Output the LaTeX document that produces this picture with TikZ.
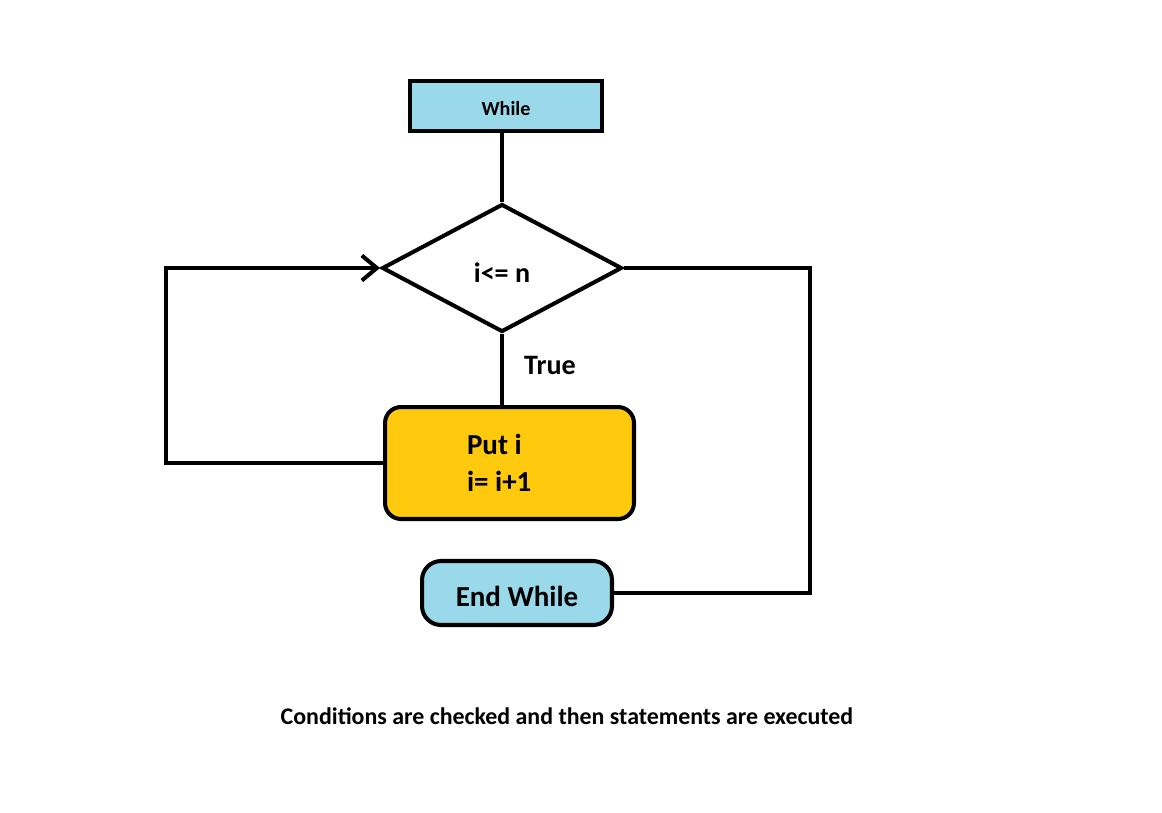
\documentclass[tikz,border=0pt]{standalone}
\usepackage{fontspec}
\setmainfont{Carlito}
\usetikzlibrary{arrows.meta,shapes.geometric}

\definecolor{boxblue}{HTML}{99D9EA}
\definecolor{boxyellow}{HTML}{FFC90E}

\begin{document}
\begin{tikzpicture}[x=0.02cm,y=-0.02cm,line width=2.3pt,
  >={Straight Barb[length=0.3cm,width=0.5cm]},
  startbox/.style={draw,fill=boxblue,inner sep=0pt,minimum width=3.84cm,minimum height=1.0cm,
    text height=11pt,font=\bfseries\fontsize{11.4}{13}\selectfont},
  cond/.style={draw,diamond,aspect=1.875,inner sep=0pt,minimum width=4.8cm,minimum height=2.56cm,
    text height=16pt,font=\bfseries\fontsize{16}{19}\selectfont},
  body/.style={draw,fill=boxyellow,rounded corners=0.32cm,inner xsep=1.64cm,text width=1.7cm,
    align=flush left,minimum height=2.24cm,font=\bfseries\fontsize{16.5}{21}\selectfont},
  endbox/.style={draw,fill=boxblue,rounded corners=0.38cm,inner sep=0pt,minimum width=3.8cm,
    minimum height=1.28cm,text height=15pt,font=\bfseries\fontsize{16.5}{19}\selectfont}]
  \useasboundingbox (0,0) rectangle (1162,812);
  \node[startbox] (while) at (506,106) {While};
  \node[cond] (test) at (502,268) {i<= n};
  \node[body] (put) at (509.5,463) {Put i\\ i= i+1};
  \node[endbox] (endw) at (517,593) {End While};
  \coordinate (loopL) at (166,268);
  \coordinate (loopR) at (810,268);
  \draw (test.north |- while.south) -- (test.north);
  \draw (test.south) -- (test.south |- put.north);
  \node[font=\bfseries\fontsize{16}{19}\selectfont] (true) at (550,365) {True};
  \draw[->] (put.west) -| (loopL) -- (test.west);
  \draw (test.east) -- (loopR) |- (endw.east);
  \node[font=\bfseries\fontsize{13.6}{16}\selectfont] (note) at (567,716)
    {Conditions are checked and then statements are executed};
\end{tikzpicture}
\end{document}
